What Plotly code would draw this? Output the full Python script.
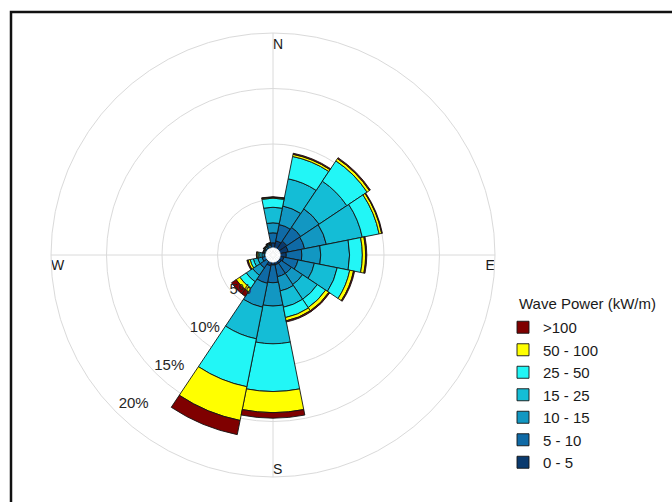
import plotly.graph_objects as go

# Compass sectors (16-point rose), clockwise from north
directions = ["N", "NNE", "NE", "ENE", "E", "ESE", "SE", "SSE",
              "S", "SSW", "SW", "WSW", "W", "WNW", "NW", "NNW"]

# Wave power classes (kW/m), lowest first, with their colours
classes = ["0 - 5", "5 - 10", "10 - 15", "15 - 25", "25 - 50", "50 - 100", ">100"]
class_colors = ["#0A3A6E", "#0F6AA6", "#1297C2", "#14BDD6", "#22F6F6", "#FFFF00", "#7F0000"]

# Frequency of occurrence (%) of each class, per direction
freq_0_5 =    [1.10, 1.30, 1.50, 1.40, 1.20, 1.00, 0.90, 0.90, 0.90, 1.00, 0.70, 0.60, 0.50, 0.50, 0.60, 0.70]
freq_5_10 =   [0.90, 1.50, 1.50, 1.50, 1.40, 1.30, 1.10, 1.10, 1.60, 1.60, 0.70, 0.40, 0.30, 0.20, 0.20, 0.20]
freq_10_15 =  [0.90, 1.70, 2.00, 2.00, 1.70, 1.50, 1.20, 1.30, 2.10, 2.20, 0.80, 0.40, 0.20, 0.10, 0.10, 0.10]
freq_15_25 =  [1.40, 2.50, 3.00, 3.30, 2.60, 2.10, 1.60, 1.50, 3.40, 2.90, 0.70, 0.40, 0.20, 0.05, 0.05, 0.05]
freq_25_50 =  [0.82, 2.05, 2.20, 1.55, 1.15, 1.15, 0.90, 0.95, 4.30, 4.40, 0.70, 0.30, 0.15, 0.05, 0.05, 0.05]
freq_50_100 = [0.08, 0.20, 0.25, 0.23, 0.30, 0.35, 0.35, 0.30, 1.90, 3.10, 0.40, 0.20, 0.10, 0.02, 0.02, 0.02]
freq_gt_100 = [0.05, 0.10, 0.10, 0.07, 0.10, 0.10, 0.10, 0.10, 0.50, 1.30, 0.50, 0.10, 0.05, 0.03, 0.03, 0.03]

series = [freq_0_5, freq_5_10, freq_10_15, freq_15_25, freq_25_50, freq_50_100, freq_gt_100]

# Radial rings (%)
ring_ticks = [5, 10, 15, 20]
ring_labels = ["5%", "10%", "15%", "20%"]
cardinal_labels = ["N", "E", "S", "W"]

sector = 360 / len(directions)
theta = [i * sector for i in range(len(directions))]

FONT = "Liberation Sans, Arial, sans-serif"
fig = go.Figure()

# Stacked sectors: each class starts where the previous ones end
base = [0.0] * len(directions)
for name, color, vals in zip(classes, class_colors, series):
    fig.add_trace(go.Barpolar(
        r=vals, theta=theta, base=list(base), width=[sector] * len(directions),
        name=name, marker=dict(color=color, line=dict(color="#141414", width=0.9)),
        hoverinfo="name+r",
    ))
    base = [b + v for b, v in zip(base, vals)]

# White calm-centre disc
calm_r = 0.65
fig.add_trace(go.Barpolar(
    r=[calm_r] * len(directions), theta=theta, base=[0] * len(directions),
    width=[sector] * len(directions), showlegend=False, hoverinfo="skip",
    marker=dict(color="white", line=dict(color="white", width=0.6)),
))

# Ring percentage labels along the south-west diagonal
fig.add_trace(go.Scatterpolar(
    r=[t - 0.4 - 0.06 * t for t in ring_ticks], theta=[223] * len(ring_ticks),
    mode="text", text=ring_labels, textfont=dict(family=FONT, size=15, color="#262626"),
    showlegend=False, hoverinfo="skip", cliponaxis=False,
))

# Cardinal labels just inside the outer circle
fig.add_trace(go.Scatterpolar(
    r=[19.55, 20, 20, 20], theta=[0, 91.1, 180, 268.9], mode="text", text=cardinal_labels,
    textposition=["bottom right", "bottom left", "top right", "bottom right"],
    textfont=dict(family=FONT, size=14, color="#1a1a1a"),
    showlegend=False, hoverinfo="skip", cliponaxis=False,
))

W, H = 672, 502
cx, cy, rad = 273, 255, 222

fig.update_layout(
    width=W, height=H,
    margin=dict(l=0, r=0, t=0, b=0),
    paper_bgcolor="white",
    font=dict(family=FONT, color="#1a1a1a"),
    polar=dict(
        domain=dict(x=[(cx - rad) / W, (cx + rad) / W],
                    y=[(H - cy - rad) / H, (H - cy + rad) / H]),
        bgcolor="white",
        barmode="overlay",
        hole=0,
        radialaxis=dict(range=[0, ring_ticks[-1]], tickvals=ring_ticks, showticklabels=False,
                        ticks="", showline=False, gridcolor="#DADADA", gridwidth=1),
        angularaxis=dict(rotation=90, direction="clockwise", tickvals=[0, 90, 180, 270],
                         showticklabels=False, ticks="", showline=True,
                         linecolor="#DADADA", linewidth=1, gridcolor="#DADADA", gridwidth=1),
    ),
    legend=dict(
        x=503 / W, y=(H - 311) / H, xanchor="left", yanchor="top",
        traceorder="reversed", font=dict(family=FONT, size=15, color="#1a1a1a"),
        bgcolor="rgba(0,0,0,0)", itemclick=False, tracegroupgap=0,
    ),
    annotations=[dict(
        text="Wave Power (kW/m)", xref="paper", yref="paper",
        x=517 / W, y=(H - 303) / H, xanchor="left", yanchor="middle",
        showarrow=False, font=dict(family=FONT, size=15, color="#1a1a1a"),
    )],
    shapes=[dict(
        type="rect", xref="paper", yref="paper",
        x0=11 / W, x1=1.02, y0=-0.02, y1=(H - 12) / H,
        line=dict(color="#111111", width=2.5), fillcolor="rgba(0,0,0,0)", layer="above",
    )],
)

fig.write_html("out.html")
